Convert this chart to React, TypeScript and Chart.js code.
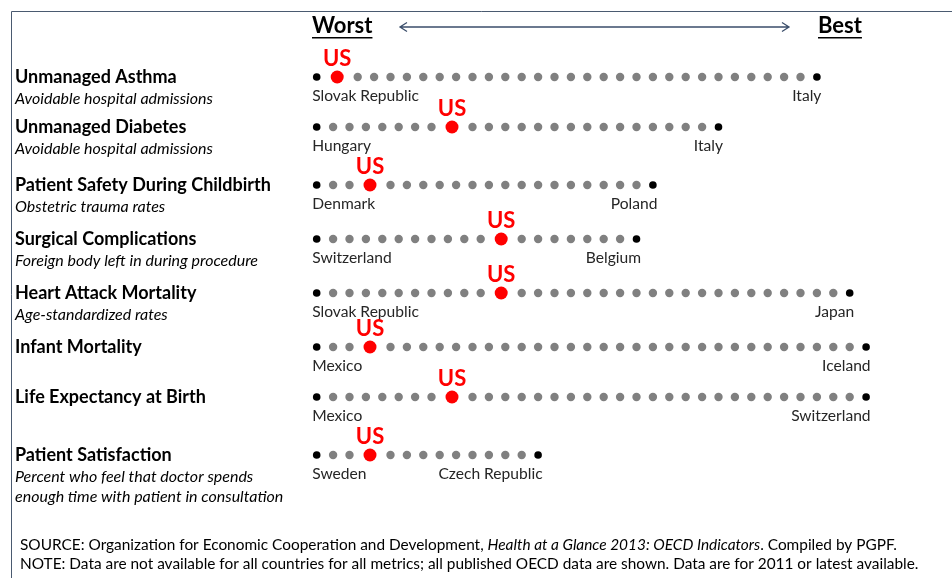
import React, { useEffect, useRef } from "react";
import { Chart, registerables } from "chart.js";

Chart.register(...registerables);

// ---- Data ----
const metrics = [
  "Unmanaged Asthma",
  "Unmanaged Diabetes",
  "Patient Safety During Childbirth",
  "Surgical Complications",
  "Heart Attack Mortality",
  "Infant Mortality",
  "Life Expectancy at Birth",
  "Patient Satisfaction",
];
const subtitles: string[][] = [
  ["Avoidable hospital admissions"],
  ["Avoidable hospital admissions"],
  ["Obstetric trauma rates"],
  ["Foreign body left in during procedure"],
  ["Age-standardized rates"],
  [],
  [],
  ["Percent who feel that doctor spends", "enough time with patient in consultation"],
];
// number of countries ranked for each metric
const countryCounts = [31, 25, 21, 20, 33, 34, 34, 14];
// US rank (1 = worst)
const usRanks = [2, 9, 4, 12, 12, 4, 9, 4];
const worstCountries = ["Slovak Republic", "Hungary", "Denmark", "Switzerland", "Slovak Republic", "Mexico", "Mexico", "Sweden"];
const bestCountries = ["Italy", "Italy", "Poland", "Belgium", "Japan", "Iceland", "Switzerland", "Czech Republic"];

const sourceLine = [
  { t: "SOURCE: Organization for Economic Cooperation and Development, ", i: false },
  { t: "Health at a Glance 2013: OECD Indicators", i: true },
  { t: ". Compiled by PGPF.", i: false },
];
const noteLine =
  "NOTE: Data are not available for all countries for all metrics; all published OECD data are shown. Data are for 2011 or latest available.";

// ---- Layout constants ----
const W = 952;
const H = 578;
const UNIT_PX = 16.4;
const X0_PX = 316.7;
const XMIN = -X0_PX / UNIT_PX;
const XMAX = XMIN + W / UNIT_PX;
const ROW_PX = 54;
const Y0_PX = 77;
const YMIN = -Y0_PX / ROW_PX;
const YMAX = YMIN + H / ROW_PX;
// small vertical layout adjustments (px) per row
const ROW_NUDGE_PX = [0, -4, 0, 0, 0, 0, -4, 0];
const FONT = "Lato, 'Open Sans', sans-serif";

function positionFor(rank: number, usRank: number) {
  // extra room around the larger US marker
  if (rank === usRank) return rank - 1 + 0.25;
  if (rank > usRank) return rank - 1 + 0.5;
  return rank - 1;
}
function rowValue(row: number) {
  return row + ROW_NUDGE_PX[row] / ROW_PX;
}

const datasets = metrics.map((m, row) => {
  const n = countryCounts[row];
  const us = usRanks[row];
  const pts = [] as { x: number; y: number }[];
  const bg: string[] = [];
  const rad: number[] = [];
  for (let r = 1; r <= n; r++) {
    pts.push({ x: positionFor(r, us), y: rowValue(row) });
    if (r === us) {
      bg.push("#FF0000");
      rad.push(6.5);
    } else if (r === 1 || r === n) {
      bg.push("#000000");
      rad.push(3.8);
    } else {
      bg.push("#808080");
      rad.push(4.2);
    }
  }
  return {
    label: m,
    data: pts,
    pointBackgroundColor: bg,
    pointBorderWidth: 0,
    pointBorderColor: bg,
    pointRadius: rad,
    pointHoverRadius: rad,
    showLine: false,
  };
});

const textPlugin = {
  id: "dotText",
  afterDatasetsDraw(chart: any) {
    const ctx = chart.ctx as CanvasRenderingContext2D;
    const xs = chart.scales.x;
    const ys = chart.scales.y;
    ctx.save();

    // border
    ctx.strokeStyle = "#4A5A70";
    ctx.lineWidth = 1;
    ctx.beginPath();
    ctx.moveTo(11.5, H);
    ctx.lineTo(11.5, 11.5);
    ctx.lineTo(W, 11.5);
    ctx.stroke();

    // header
    ctx.fillStyle = "#000";
    ctx.textBaseline = "middle";
    ctx.textAlign = "left";
    ctx.font = `bold 22px ${FONT}`;
    const drawUnder = (t: string, x: number) => {
      ctx.fillText(t, x, 26);
      const w = ctx.measureText(t).width;
      ctx.fillRect(x, 37, w, 1.5);
    };
    drawUnder("Worst", 312);
    drawUnder("Best", 818);
    // arrow
    ctx.strokeStyle = "#3B4E6B";
    ctx.lineWidth = 1.3;
    ctx.beginPath();
    ctx.moveTo(400, 27);
    ctx.lineTo(789, 27);
    ctx.moveTo(407, 22.5);
    ctx.lineTo(400, 27);
    ctx.lineTo(407, 31.5);
    ctx.moveTo(782, 22.5);
    ctx.lineTo(789, 27);
    ctx.lineTo(782, 31.5);
    ctx.stroke();

    metrics.forEach((m, row) => {
      const y = ys.getPixelForValue(rowValue(row));
      // left labels
      ctx.fillStyle = "#000";
      ctx.textAlign = "left";
      ctx.font = `bold 18px ${FONT}`;
      ctx.fillText(m, 15, y);
      ctx.font = `italic 16px ${FONT}`;
      subtitles[row].forEach((s, k) => ctx.fillText(s, 15, y + 22 + k * 20));

      const n = countryCounts[row];
      const us = usRanks[row];
      const xFirst = xs.getPixelForValue(positionFor(1, us));
      const xLast = xs.getPixelForValue(positionFor(n, us));
      const xUs = xs.getPixelForValue(positionFor(us, us));

      ctx.fillStyle = "#262626";
      ctx.font = `15.6px ${FONT}`;
      ctx.textAlign = "left";
      ctx.fillText(worstCountries[row], xFirst - 4.5, y + 19);
      ctx.textAlign = "right";
      ctx.fillText(bestCountries[row], xLast + 4.5, y + 19);

      ctx.fillStyle = "#FF0000";
      ctx.textAlign = "center";
      ctx.textBaseline = "alphabetic";
      ctx.font = `bold 22px ${FONT}`;
      ctx.fillText("US", xUs, y - 11);
      ctx.textBaseline = "middle";
    });

    // footer
    ctx.fillStyle = "#000";
    ctx.textAlign = "left";
    let fx = 20;
    sourceLine.forEach((p) => {
      ctx.font = `${p.i ? "italic " : ""}15.4px ${FONT}`;
      ctx.fillText(p.t, fx, 545);
      fx += ctx.measureText(p.t).width;
    });
    ctx.font = `15.4px ${FONT}`;
    ctx.fillText(noteLine, 20, 564);

    ctx.restore();
  },
};

export default function App() {
  const ref = useRef<HTMLCanvasElement | null>(null);
  useEffect(() => {
    if (!ref.current) return;
    const chart = new Chart(ref.current, {
      type: "scatter",
      data: { datasets: datasets as any },
      options: {
        animation: false,
        responsive: true,
        maintainAspectRatio: false,
        layout: { padding: 0, autoPadding: false },
        plugins: { legend: { display: false }, tooltip: { enabled: false } },
        scales: {
          x: { type: "linear", display: false, min: XMIN, max: XMAX },
          y: { type: "linear", display: false, min: YMIN, max: YMAX, reverse: true },
        },
      },
      plugins: [textPlugin],
    });
    return () => chart.destroy();
  }, []);
  return (
    <div style={{ position: "fixed", left: 0, top: 0, width: W, height: H, background: "#fff" }}>
      <canvas ref={ref} />
    </div>
  );
}
